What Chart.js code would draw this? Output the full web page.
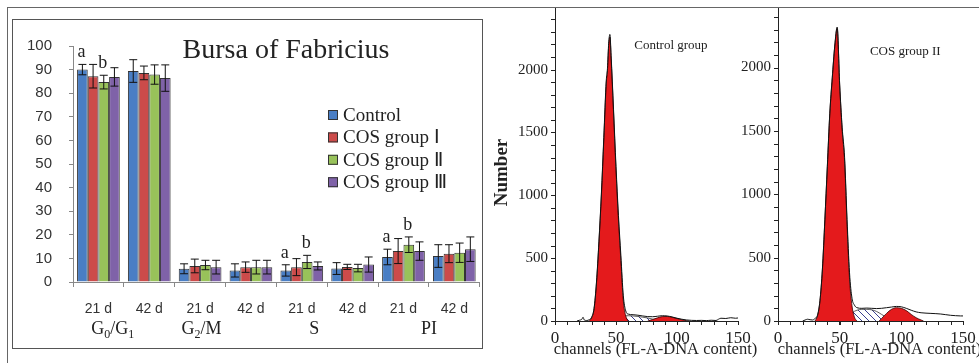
<!DOCTYPE html>
<html>
<head>
<meta charset="utf-8">
<script src="https://cdn.jsdelivr.net/npm/chart.js@4.4.1/dist/chart.umd.min.js"></script>
<style>
    html, body { margin: 0; padding: 0; background: #fff; }
    body { width: 979px; height: 363px; position: relative; overflow: hidden; }
    #frame { position: absolute; left: 7px; top: 7px; width: 972px; height: 356px; border-top: 1.5px solid #666; border-left: 1.5px solid #666; }
    #barBox { position: absolute; left: 12px; top: 19px; width: 471px; height: 330px; border: 1.5px solid #555; box-sizing: border-box; }
    canvas { position: absolute; }
    #barChart { left: 13px; top: 20px; }
    #histCtrl { left: 490px; top: 0; }
    #histCos { left: 730px; top: 0; }
</style>
</head>
<body>
<div id="frame"></div>
<div id="barBox"></div>
<canvas id="barChart" width="469" height="328" style="width:469px;height:328px"></canvas>
<canvas id="histCtrl" width="270" height="363" style="width:270px;height:363px"></canvas>
<canvas id="histCos" width="249" height="363" style="width:249px;height:363px"></canvas>

<script>
// Bursa of Fabricius - cell cycle bars + two DNA histograms

// ---- bar chart data ----
const periods = ['21 d', '42 d', '21 d', '42 d', '21 d', '42 d', '21 d', '42 d'];
const phases = ['G_0/G_1', 'G_2/M', 'S', 'PI'];
const groupNames = ['Control', 'COS group Ⅰ', 'COS group Ⅱ', 'COS group Ⅲ'];

const control = [90, 89.4, 5.6, 4.9, 4.9, 5.7, 10.6, 11];
const controlErr = [2.2, 4.8, 2.1, 2.8, 2.4, 2.5, 3.3, 4.8];
const cos1 = [87.2, 88.6, 6.8, 6.3, 6.3, 6.4, 13.1, 12];
const cos1Err = [5, 2.9, 2.9, 2.2, 3.6, 1.1, 5.3, 3.8];
const cos2 = [84.7, 87.9, 7.2, 6.3, 8.5, 5.9, 15.8, 12.4];
const cos2Err = [2.9, 4.1, 2, 2.9, 2.8, 1.6, 3.3, 4.1];
const cos3 = [86.9, 86.4, 6.3, 6.3, 6.8, 7.4, 13.1, 13.9];
const cos3Err = [3.9, 5.6, 2.9, 2.9, 1.7, 3.2, 3.9, 5.2];

// significance letters: category index, series index, letter
const sigCats = [0, 0, 4, 4, 6, 6];
const sigSeries = [0, 2, 0, 2, 0, 2];
const sigText = ['a', 'b', 'a', 'b', 'a', 'b'];

// ---- histogram data (channel, count) ----
const ctrlTotalCh = [18, 20, 22, 23, 24, 26, 28, 30, 32, 34, 36, 38, 40, 42, 43, 44, 45, 46, 48, 50, 52, 54, 56, 58, 60, 64, 68, 72, 76, 80, 84, 88, 92, 96, 100, 104, 108, 112, 116, 120, 124, 128, 132, 134, 136, 140, 144, 148, 150];
const ctrlTotalN = [0, 6, 14, 30, 8, 4, 10, 30, 100, 310, 630, 1010, 1460, 1910, 2010, 2210, 2280, 2110, 1680, 1230, 840, 520, 200, 80, 55, 50, 46, 40, 35, 34, 38, 42, 40, 32, 22, 14, 8, 5, 4, 5, 3, 6, 4, 14, 22, 20, 26, 22, 24];
const ctrlG1Ch = [28, 30, 32, 34, 36, 38, 40, 42, 43, 44, 45, 46, 48, 50, 52, 54, 56, 58, 60];
const ctrlG1N = [0, 25, 95, 300, 620, 995, 1440, 1890, 1990, 2190, 2260, 2090, 1655, 1200, 805, 480, 160, 40, 0];
const ctrlSCh = [40, 44, 48, 52, 56, 60, 64, 68, 72, 76, 80, 84, 88];
const ctrlSN = [0, 15, 28, 36, 40, 42, 40, 36, 30, 24, 15, 6, 0];
const ctrlG2Ch = [76, 80, 84, 88, 92, 96, 100, 104, 108, 110];
const ctrlG2N = [0, 12, 25, 35, 36, 30, 20, 10, 2, 0];

const cosTotalCh = [20, 22, 24, 26, 28, 30, 32, 34, 36, 38, 40, 42, 44, 46, 48, 50, 52, 54, 56, 58, 60, 62, 64, 68, 72, 76, 80, 84, 88, 92, 96, 100, 104, 108, 112, 116, 120, 124, 128, 132, 136, 140, 144, 148, 150];
const cosTotalN = [0, 8, 14, 10, 8, 20, 45, 160, 410, 800, 1220, 1640, 1920, 2170, 2320, 1870, 1530, 1290, 800, 380, 180, 125, 105, 100, 102, 100, 98, 100, 105, 110, 115, 112, 100, 85, 72, 65, 62, 60, 58, 55, 50, 45, 42, 40, 40];
const cosG1Ch = [30, 32, 34, 36, 38, 40, 42, 44, 46, 48, 50, 52, 54, 56, 58, 60, 62, 64];
const cosG1N = [0, 40, 155, 405, 795, 1215, 1635, 1915, 2165, 2310, 1860, 1510, 1260, 760, 330, 120, 30, 0];
const cosSCh = [52, 56, 60, 64, 68, 72, 76, 80, 84, 88, 92, 95];
const cosSN = [0, 30, 65, 85, 92, 92, 88, 75, 52, 28, 8, 0];
const cosG2Ch = [82, 84, 88, 92, 96, 100, 104, 108, 112, 116, 118];
const cosG2N = [0, 20, 60, 92, 105, 100, 82, 52, 26, 8, 0];

// histogram axis labels
const histXLabels = [0, 50, 100, 150];
const histYLabels = [0, 500, 1000, 1500, 2000];

const barSeries = [control, cos1, cos2, cos3];
const barErrors = [controlErr, cos1Err, cos2Err, cos3Err];
const barColors = ['#4a7ec4', '#cc4b4a', '#98c25a', '#7f62a8'];

const SERIF = 'Liberation Serif';
const SANS = 'Liberation Sans';

// draw "G_0/G_1" style text, underscore marks a subscript char
function drawPhase(ctx, label, cx, baseY) {
    const parts = [];
    for (let i = 0; i < label.length; i++) {
        if (label[i] === '_') { parts.push({ t: label[i + 1], sub: true }); i++; }
        else parts.push({ t: label[i], sub: false });
    }
    const big = '18px "' + SERIF + '"', small = '12px "' + SERIF + '"';
    let w = 0;
    parts.forEach(p => { ctx.font = p.sub ? small : big; p.w = ctx.measureText(p.t).width; w += p.w; });
    let xx = cx - w / 2;
    ctx.textAlign = 'left';
    ctx.textBaseline = 'alphabetic';
    parts.forEach(p => {
        ctx.font = p.sub ? small : big;
        ctx.fillText(p.t, xx, baseY + (p.sub ? 4 : 0));
        xx += p.w;
    });
}

const phaseNudge = [-11, -24, -13, 0];

const barExtras = {
    id: 'barExtras',
    afterDatasetsDraw(chart) {
        const ctx = chart.ctx, y = chart.scales.y, x = chart.scales.x, area = chart.chartArea;
        ctx.save();

        // error bars
        ctx.strokeStyle = '#111';
        ctx.lineWidth = 1;
        barSeries.forEach((vals, i) => {
            chart.getDatasetMeta(i).data.forEach((bar, j) => {
                const top = y.getPixelForValue(vals[j] + barErrors[i][j]);
                const bot = y.getPixelForValue(vals[j] - barErrors[i][j]);
                ctx.beginPath();
                ctx.moveTo(bar.x, top); ctx.lineTo(bar.x, bot);
                ctx.moveTo(bar.x - 4, top); ctx.lineTo(bar.x + 4, top);
                ctx.moveTo(bar.x - 4, bot); ctx.lineTo(bar.x + 4, bot);
                ctx.stroke();
            });
        });

        // letters over bars
        ctx.fillStyle = '#222';
        ctx.font = '18px "' + SERIF + '"';
        ctx.textAlign = 'center';
        ctx.textBaseline = 'alphabetic';
        sigCats.forEach((c, k) => {
            const s = sigSeries[k];
            const bar = chart.getDatasetMeta(s).data[c];
            const top = y.getPixelForValue(barSeries[s][c] + barErrors[s][c]);
            ctx.fillText(sigText[k], bar.x - 1, top - 7);
        });

        // title
        ctx.font = '28px "' + SERIF + '"';
        ctx.textBaseline = 'middle';
        ctx.fillText('Bursa of Fabricius', area.left + 213, 31);

        // legend
        ctx.font = '19px "' + SERIF + '"';
        ctx.textAlign = 'left';
        groupNames.forEach((name, i) => {
            const ly = 95 + i * 22.4;
            ctx.fillStyle = barColors[i];
            ctx.fillRect(area.left + 255, ly - 5, 10, 10);
            ctx.strokeStyle = '#333';
            ctx.strokeRect(area.left + 255.5, ly - 4.5, 9, 9);
            ctx.fillStyle = '#222';
            ctx.fillText(name, area.left + 270, ly + 1);
        });

        // phase labels under the day pairs
        phases.forEach((ph, k) => {
            const cx = (x.getPixelForValue(2 * k) + x.getPixelForValue(2 * k + 1)) / 2 + phaseNudge[k];
            drawPhase(ctx, ph, cx, 314);
        });
        ctx.restore();
    }
};

new Chart(document.getElementById('barChart'), {
    type: 'bar',
    data: {
        labels: periods,
        datasets: groupNames.map((name, i) => ({
            label: name,
            data: barSeries[i],
            backgroundColor: barColors[i],
            borderColor: '#333',
            borderWidth: 1,
            categoryPercentage: 0.84,
            barPercentage: 1
        }))
    },
    options: {
        responsive: false,
        animation: false,
        layout: { padding: { top: 26, right: 1, left: 0, bottom: 0 } },
        plugins: { legend: { display: false }, tooltip: { enabled: false } },
        scales: {
            x: {
                grid: { drawOnChartArea: false, tickLength: 5, color: '#888' },
                border: { color: '#888' },
                ticks: { color: '#333', font: { family: SANS, size: 14 }, padding: 14, maxRotation: 0 },
                afterFit: s => { s.height = 66; }
            },
            y: {
                min: 0,
                max: 100,
                ticks: { stepSize: 10, color: '#333', font: { family: SANS, size: 15 }, padding: 17 },
                grid: { drawOnChartArea: false, tickLength: 4, color: '#888' },
                border: { color: '#888' },
                afterFit: s => { s.width = 60; }
            }
        }
    },
    plugins: [barExtras]
});

// ---- histograms ----
function makeHatch() {
    const c = document.createElement('canvas');
    c.width = 7; c.height = 7;
    const g = c.getContext('2d');
    g.fillStyle = '#fff';
    g.fillRect(0, 0, 7, 7);
    g.strokeStyle = '#3a3f8f';
    g.lineWidth = 1;
    g.beginPath();
    g.moveTo(0, 0); g.lineTo(7, 7);
    g.moveTo(-1, 6); g.lineTo(1, 8);
    g.moveTo(6, -1); g.lineTo(8, 1);
    g.stroke();
    return g.createPattern(c, 'repeat');
}
const hatch = makeHatch();
const RED = '#e41a1c';

function xy(ch, n) {
    return ch.map((c, i) => ({ x: c, y: n[i] }));
}

// minor ticks every 10 channels / 100 counts, labelled values from the arrays,
// the panel caption, x title and the rotated y title
const histExtras = {
    id: 'histExtras',
    afterDraw(chart, args, opts) {
        const ctx = chart.ctx, x = chart.scales.x, y = chart.scales.y, area = chart.chartArea;
        ctx.save();
        ctx.strokeStyle = '#222';
        ctx.lineWidth = 1;
        ctx.beginPath();
        for (let v = 0; v <= y.max; v += 100) {
            const py = Math.round(y.getPixelForValue(v)) + 0.5;
            ctx.moveTo(area.left - 4, py); ctx.lineTo(area.left, py);
        }
        for (let c = 0; c <= 150; c += 10) {
            const px = Math.round(x.getPixelForValue(c)) + 0.5;
            ctx.moveTo(px, area.bottom); ctx.lineTo(px, area.bottom + 4);
        }
        ctx.stroke();

        ctx.fillStyle = '#222';
        ctx.font = '15px "' + SERIF + '"';
        ctx.textAlign = 'right';
        ctx.textBaseline = 'middle';
        histYLabels.forEach(v => ctx.fillText(String(v), area.left - 7, y.getPixelForValue(v)));

        ctx.font = '13px "' + SERIF + '"';
        ctx.textAlign = 'left';
        ctx.fillText(opts.text, x.getPixelForValue(opts.ch), y.getPixelForValue(opts.n));

        ctx.font = '16.5px "' + SERIF + '"';
        ctx.textAlign = 'center';
        ctx.fillText('channels (FL-A-DNA content)', (area.left + area.right) / 2 + 9, 350);

        if (opts.yTitle) {
            ctx.translate(12, (area.top + area.bottom) / 2 + 8);
            ctx.rotate(-Math.PI / 2);
            ctx.font = 'bold 19px "' + SERIF + '"';
            ctx.textAlign = 'center';
            ctx.fillText(opts.yTitle, 0, 0);
        }
        ctx.restore();
    }
};

function histChart(id, p) {
    return new Chart(document.getElementById(id), {
        type: 'line',
        data: {
            datasets: [
                { data: xy(p.totalCh, p.totalN), borderColor: '#111', borderWidth: 1, fill: false, order: 0 },
                { data: xy(p.g1Ch, p.g1N), borderColor: '#300', borderWidth: 0.8, backgroundColor: RED, fill: 'origin', order: 1 },
                { data: xy(p.g2Ch, p.g2N), borderColor: '#300', borderWidth: 0.8, backgroundColor: RED, fill: 'origin', order: 2 },
                { data: xy(p.sCh, p.sN), borderColor: '#333', borderWidth: 0.8, backgroundColor: hatch, fill: 'origin', order: 3 }
            ]
        },
        options: {
            responsive: false,
            animation: false,
            elements: { point: { radius: 0 }, line: { cubicInterpolationMode: 'monotone' } },
            layout: { padding: { top: 8, right: p.padRight, left: 0, bottom: 0 } },
            plugins: {
                legend: { display: false },
                tooltip: { enabled: false },
                histExtras: { text: p.label, ch: p.labelCh, n: p.labelN, yTitle: p.yTitle }
            },
            scales: {
                x: {
                    type: 'linear',
                    min: 0,
                    max: 150,
                    afterBuildTicks: s => { s.ticks = histXLabels.map(v => ({ value: v })); },
                    ticks: {
                        autoSkip: false, maxRotation: 0, padding: 3,
                        color: '#222', font: { family: SERIF, size: 17 }
                    },
                    grid: { drawOnChartArea: false, tickLength: 4, color: '#222' },
                    border: { color: '#222' },
                    afterFit: s => { s.height = 42; }
                },
                y: {
                    min: 0,
                    max: p.yMax,
                    ticks: { display: false },
                    grid: { display: false },
                    border: { display: true, color: '#222' },
                    afterFit: s => { s.width = p.yWidth; }
                }
            }
        },
        plugins: [histExtras]
    });
}

histChart('histCtrl', {
    totalCh: ctrlTotalCh, totalN: ctrlTotalN,
    g1Ch: ctrlG1Ch, g1N: ctrlG1N,
    sCh: ctrlSCh, sN: ctrlSN,
    g2Ch: ctrlG2Ch, g2N: ctrlG2N,
    yMax: 2490, yWidth: 65, padRight: 22, yTitle: 'Number',
    label: 'Control group', labelCh: 65, labelN: 2190
});

histChart('histCos', {
    totalCh: cosTotalCh, totalN: cosTotalN,
    g1Ch: cosG1Ch, g1N: cosG1N,
    sCh: cosSCh, sN: cosSN,
    g2Ch: cosG2Ch, g2N: cosG2N,
    yMax: 2470, yWidth: 48, padRight: 16, yTitle: '',
    label: 'COS group II', labelCh: 74.5, labelN: 2130
});
</script>
</body>
</html>
